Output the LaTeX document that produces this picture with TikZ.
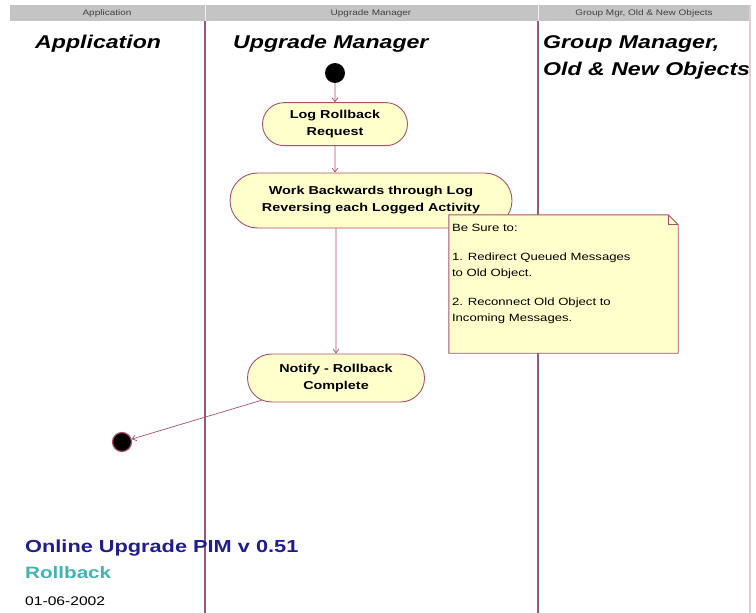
\documentclass[tikz,border=0pt]{standalone}
\usepackage{fontspec}
\usetikzlibrary{positioning,shapes.misc,arrows.meta}
\newfontfamily\umlfont[FakeStretch=1.25]{Liberation Sans}
\definecolor{lanered}{HTML}{9A5878}
\definecolor{edgered}{HTML}{A8506E}
\definecolor{actfill}{HTML}{FFFFCC}
\definecolor{headgray}{HTML}{C4C4C4}
\definecolor{pimblue}{HTML}{1E1E8C}
\definecolor{pimteal}{HTML}{40B4B4}

\begin{document}
\begin{tikzpicture}[x=1pt, y=-1pt,
	activity/.style={rounded rectangle, draw=edgered, fill=actfill, line width=0.9pt, align=center, inner sep=0pt, font=\umlfont\bfseries\fontsize{11.5}{17}\selectfont},
	notebox/.style={draw=edgered, fill=actfill, line width=0.9pt},
	startdot/.style={circle, fill=black, minimum size=20pt, inner sep=0pt},
	enddot/.style={circle, fill=black, draw=edgered, line width=1.2pt, minimum size=19pt, inner sep=0pt},
	arrow/.style={-{Straight Barb[length=4pt,width=6pt]}, draw=edgered, line width=0.7pt},
	lane/.style={draw=lanered, line width=1.2pt},
	lanetitle/.style={anchor=base west, inner sep=0pt, font=\umlfont\bfseries\itshape\fontsize{18.5}{22}\selectfont},
	headtext/.style={inner sep=0pt, text=black!75, font=\umlfont\fontsize{8}{9}\selectfont},
	footer/.style={anchor=base west, inner sep=0pt}
	]
	\useasboundingbox (0,0) rectangle (756,613);
	
	% Kopfleiste der Bahnen
	\fill[headgray] (10,5) rectangle (750,21);
	\draw[white!75!headgray] (205,5) -- (205,21) (538,5) -- (538,21);
	\node[headtext] (happ) at (107,13) {Application};
	\node[headtext] (hupg) at (371,13) {Upgrade Manager};
	\node[headtext] (hgrp) at (644,13) {Group Mgr, Old \& New Objects};
	
	% Bahngrenzen
	\draw[lane] (205,21) -- (205,613);
	\draw[lane] (538,21) -- (538,613);
	\draw[lane, draw=lanered!30] (750,5) -- (750,613);
	
	% Bahntitel
	\node[lanetitle] (tapp) at (35,48) {Application};
	\node[lanetitle] (tupg) at (233,48) {Upgrade Manager};
	\node[lanetitle] (tgrp) at (543,48) {Group Manager,};
	\node[lanetitle] (tobj) at (543,75) {Old \& New Objects};
	
	% Aktivitaeten
	\node[startdot] (start) at (335,73) {};
	\node[activity, minimum width=145pt, minimum height=43pt, below=19pt of start] (log) {Log Rollback\\Request};
	\node[activity, minimum width=282pt, minimum height=55pt] (work) at (371,200.5) {Work Backwards through Log\\Reversing each Logged Activity};
	\node[activity, minimum width=177pt, minimum height=48pt] (notify) at (336,378) {Notify - Rollback\\Complete};
	\node[enddot] (final) at (122,442) {};
	
	% Uebergaenge
	\draw[arrow] (start) -- (log);
	\draw[arrow] (log) -- (log |- work.north);
	\draw[arrow] (work.south -| notify) -- (notify);
	\draw[arrow] (notify) -- (final);
	
	% Notiz mit Eselsohr
	\node[minimum width=229pt, minimum height=138pt, inner sep=0pt] (note) at (563.5,284) {};
	\draw[notebox] (note.north west) -- ([xshift=-10pt]note.north east) -- ([yshift=-10pt]note.north east) -- (note.south east) -- (note.south west) -- cycle;
	\draw[edgered, line width=0.7pt] ([xshift=-10pt]note.north east) -- ([xshift=-10pt,yshift=-10pt]note.north east) -- ([yshift=-10pt]note.north east);
	\node[anchor=north west, inner sep=0pt, align=left, font=\umlfont\fontsize{10.5}{15.5}\selectfont] (notetxt) at ([xshift=3pt,yshift=-9pt]note.north west)
	{Be Sure to:\\[14pt]1. Redirect Queued Messages\\to Old Object.\\[14pt]2. Reconnect Old Object to\\Incoming Messages.};
	
	% Titelblock
	\node[footer, text=pimblue, font=\umlfont\bfseries\fontsize{17.4}{20}\selectfont] (pim) at (25,552) {Online Upgrade PIM v 0.51};
	\node[footer, text=pimteal, font=\umlfont\bfseries\fontsize{16.5}{20}\selectfont] (sub) at (25,578) {Rollback};
	\node[footer, font=\umlfont\fontsize{12.5}{15}\selectfont] (date) at (25,605) {01-06-2002};
	
\end{tikzpicture}
\end{document}
